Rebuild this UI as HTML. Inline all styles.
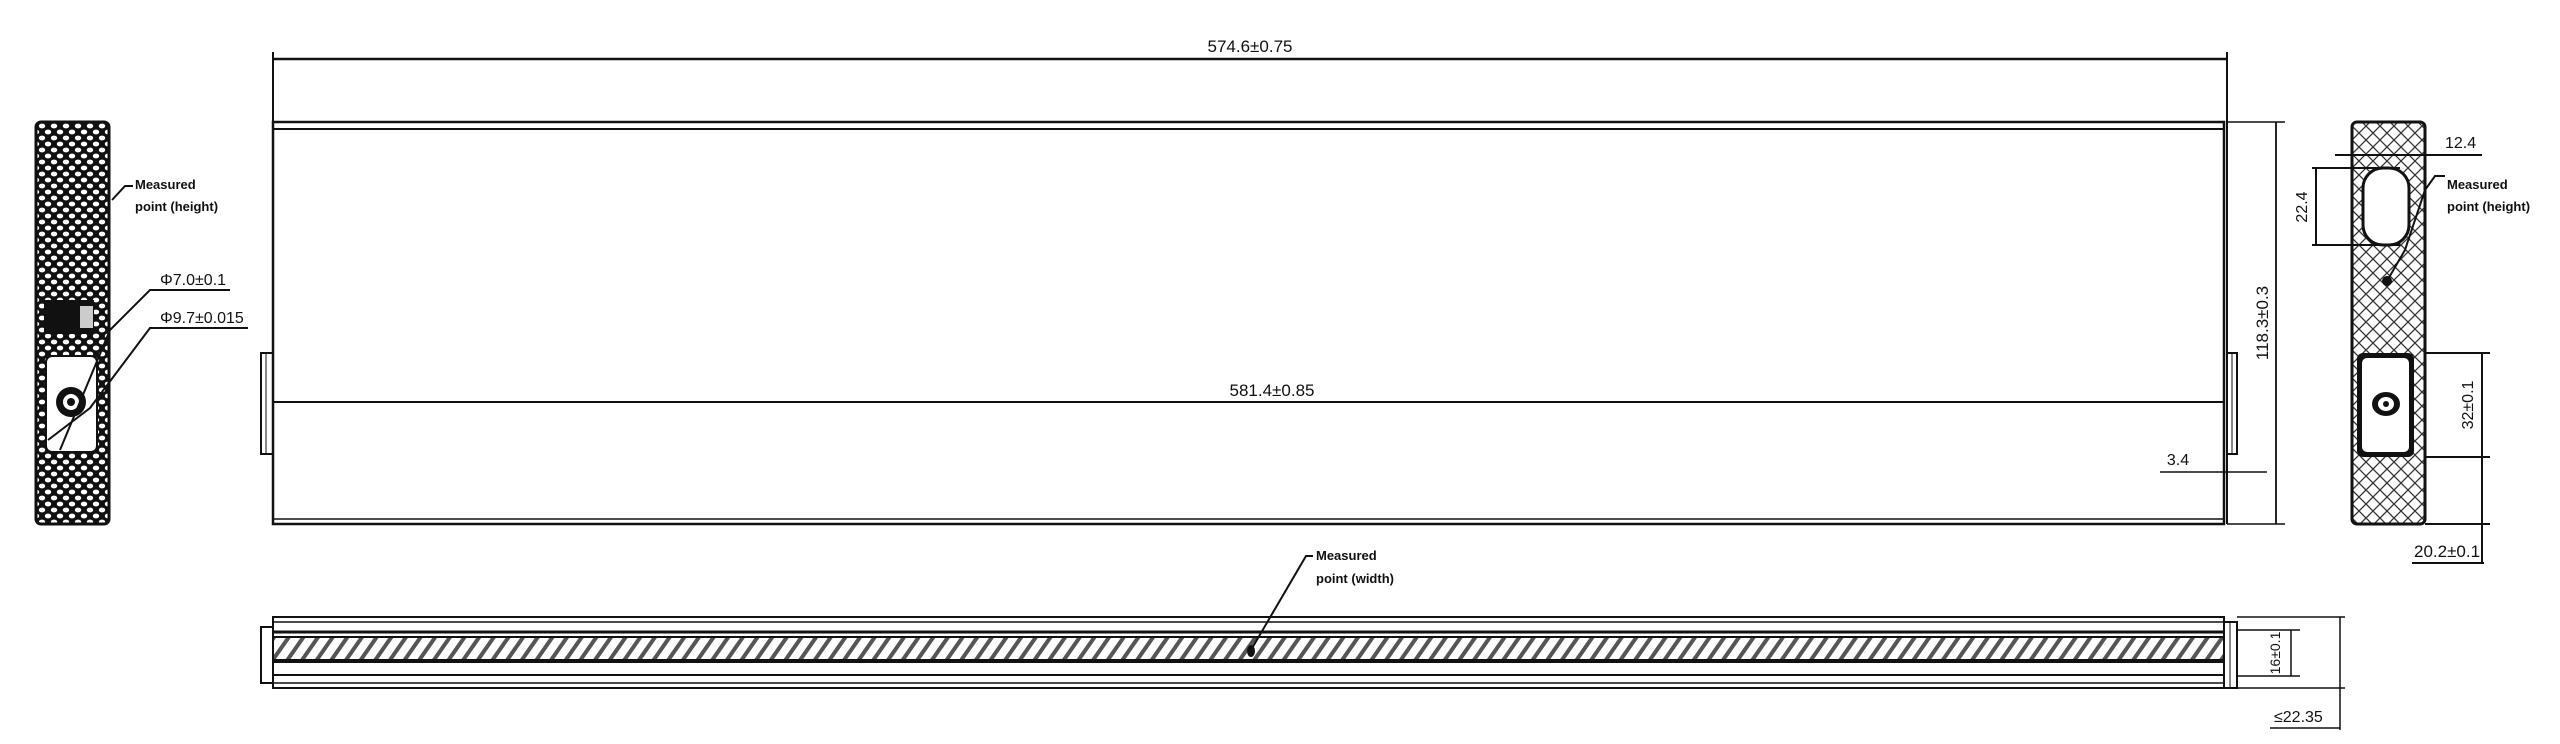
<!DOCTYPE html>
<html><head><meta charset="utf-8"><style>
html,body{margin:0;padding:0;background:#fff;}
svg{display:block;}
text{font-family:"Liberation Sans",sans-serif;fill:#111;}
</style></head><body>
<svg width="2560" height="744" viewBox="0 0 2560 744" xmlns="http://www.w3.org/2000/svg">
<defs>
<pattern id="dots" width="12" height="12" patternUnits="userSpaceOnUse">
<rect width="12" height="12" fill="#111"/>
<ellipse cx="6" cy="6" rx="3.2" ry="2.4" fill="#fff"/>
<ellipse cx="0" cy="0" rx="3.2" ry="2.4" fill="#fff"/><ellipse cx="12" cy="0" rx="3.2" ry="2.4" fill="#fff"/>
<ellipse cx="0" cy="12" rx="3.2" ry="2.4" fill="#fff"/><ellipse cx="12" cy="12" rx="3.2" ry="2.4" fill="#fff"/>
</pattern>
<pattern id="cross" width="14" height="14" patternUnits="userSpaceOnUse">
<rect width="14" height="14" fill="#fff"/>
<path d="M0 0L14 14M14 0L0 14" stroke="#333" stroke-width="1.3"/>
</pattern>
<pattern id="hatch" width="12" height="12" patternUnits="userSpaceOnUse" patternTransform="rotate(35)">
<rect width="12" height="12" fill="#fff"/>
<rect x="0" y="0" width="4" height="12" fill="#555"/>
</pattern>
</defs>
<g stroke="#111" fill="none" stroke-width="2">
<line x1="273" y1="52" x2="273" y2="122"/>
<line x1="2227" y1="52" x2="2227" y2="524" />
<line x1="273" y1="59" x2="2227" y2="59" stroke-width="2.5"/>
<rect x="273" y="122" width="1951" height="402" stroke-width="2.5"/>
<line x1="273" y1="129" x2="2224" y2="129" stroke-width="2"/>
<line x1="273" y1="519" x2="2224" y2="519" stroke-width="1.5"/>
<line x1="273" y1="402" x2="2224" y2="402" stroke-width="2"/>
<rect x="261" y="353" width="12" height="101" stroke-width="2"/>
<line x1="266" y1="353" x2="266" y2="454" stroke-width="1"/>
<rect x="2227" y="353" width="10" height="101" stroke-width="2"/>
<line x1="2232" y1="353" x2="2232" y2="454" stroke-width="1"/>
<line x1="2160" y1="472" x2="2267" y2="472" stroke-width="1.5"/>
<line x1="2227" y1="122" x2="2285" y2="122" stroke-width="1.5"/>
<line x1="2227" y1="524" x2="2285" y2="524" stroke-width="1.5"/>
<line x1="2276" y1="122" x2="2276" y2="524" stroke-width="1.8"/>
</g>
<text x="1250" y="52" font-size="17" text-anchor="middle">574.6±0.75</text>
<text x="1272" y="396" font-size="17" text-anchor="middle">581.4±0.85</text>
<text x="2178" y="465" font-size="16" text-anchor="middle">3.4</text>
<text transform="translate(2268,323) rotate(-90)" font-size="17" text-anchor="middle">118.3±0.3</text>

<rect x="36" y="122" width="73" height="402" rx="5" fill="url(#dots)" stroke="#111" stroke-width="3"/>
<rect x="44" y="300" width="50" height="34" fill="#111"/>
<rect x="80" y="306" width="13" height="22" fill="#ccc"/>
<rect x="46" y="356" width="51" height="96" rx="6" fill="#fff" stroke="#111" stroke-width="2"/>
<circle cx="71" cy="402" r="15" fill="#111"/>
<circle cx="71" cy="402" r="8" fill="#fff"/>
<circle cx="71" cy="402" r="4" fill="#111"/>
<g stroke="#111" stroke-width="2" fill="none">
<polyline points="112,200 125,186 133,186"/>
<polyline points="60,450 110,330 150,290 230,290"/>
<polyline points="48,440 90,408 150,328 248,328"/>
</g>
<text x="135" y="189" font-size="13" font-weight="bold">Measured</text>
<text x="135" y="211" font-size="13" font-weight="bold">point (height)</text>
<text x="160" y="285" font-size="16">Φ7.0±0.1</text>
<text x="160" y="323" font-size="16">Φ9.7±0.015</text>

<rect x="2352" y="122" width="73" height="402" rx="5" fill="url(#cross)" stroke="#111" stroke-width="3"/>
<rect x="2363" y="168" width="46" height="77" rx="20" fill="#fff" stroke="#111" stroke-width="3"/>
<rect x="2357" y="353" width="57" height="104" rx="6" fill="#111"/>
<rect x="2362" y="358" width="47" height="94" rx="5" fill="#fff"/>
<ellipse cx="2386" cy="404" rx="14" ry="12" fill="#111"/>
<ellipse cx="2386" cy="404" rx="8" ry="7" fill="#fff"/>
<circle cx="2386" cy="404" r="3" fill="#111"/>
<circle cx="2387" cy="281" r="5" fill="#111"/>
<g stroke="#111" stroke-width="2" fill="none">
<line x1="2335" y1="155" x2="2482" y2="155"/>
<line x1="2312" y1="168" x2="2400" y2="168"/>
<line x1="2312" y1="245" x2="2400" y2="245"/>
<line x1="2316" y1="168" x2="2316" y2="245"/>
<polyline points="2387,281 2405,250 2425,190 2435,176 2445,176"/>
<line x1="2425" y1="353" x2="2490" y2="353"/>
<line x1="2425" y1="457" x2="2490" y2="457"/>
<line x1="2425" y1="524" x2="2490" y2="524"/>
<line x1="2482" y1="353" x2="2482" y2="563"/>
<line x1="2412" y1="563" x2="2484" y2="563"/>
</g>
<text x="2445" y="148" font-size="16">12.4</text>
<text x="2447" y="189" font-size="13" font-weight="bold">Measured</text>
<text x="2447" y="211" font-size="13" font-weight="bold">point (height)</text>
<text transform="translate(2307,207) rotate(-90)" font-size="16" text-anchor="middle">22.4</text>
<text transform="translate(2473,405) rotate(-90)" font-size="16" text-anchor="middle">32±0.1</text>
<text x="2414" y="557" font-size="17">20.2±0.1</text>

<rect x="273" y="638" width="1951" height="22" fill="url(#hatch)"/>
<g stroke="#111" fill="none">
<rect x="273" y="617" width="1951" height="71" stroke-width="2"/>
<line x1="273" y1="622" x2="2224" y2="622" stroke-width="1.5"/>
<line x1="273" y1="683" x2="2224" y2="683" stroke-width="1.5"/>
<line x1="273" y1="632" x2="2224" y2="632" stroke-width="3"/>
<line x1="273" y1="637" x2="2224" y2="637" stroke-width="2"/>
<line x1="273" y1="661" x2="2224" y2="661" stroke-width="4"/>
<line x1="273" y1="675" x2="2224" y2="675" stroke-width="2"/>
<rect x="261" y="627" width="12" height="56" stroke-width="2"/>
<rect x="2224" y="622" width="13" height="66" stroke-width="2"/>
<line x1="2230" y1="622" x2="2230" y2="688" stroke-width="1"/>
<line x1="2237" y1="630" x2="2300" y2="630" stroke-width="1.5"/>
<line x1="2237" y1="676" x2="2300" y2="676" stroke-width="1.5"/>
<line x1="2291" y1="630" x2="2291" y2="676" stroke-width="1.5"/>
<line x1="2237" y1="617" x2="2345" y2="617" stroke-width="1.5"/>
<line x1="2237" y1="688" x2="2345" y2="688" stroke-width="1.5"/>
<line x1="2340" y1="617" x2="2340" y2="730" stroke-width="1.5"/>
<line x1="2270" y1="728" x2="2340" y2="728" stroke-width="1.5"/>
<polyline points="1251,650 1306,556 1313,556" stroke-width="2"/>
</g>
<ellipse cx="1251" cy="651" rx="4" ry="6" fill="#111"/>
<text x="1316" y="560" font-size="13" font-weight="bold">Measured</text>
<text x="1316" y="583" font-size="13" font-weight="bold">point (width)</text>
<text transform="translate(2280,653) rotate(-90)" font-size="14" text-anchor="middle">16±0.1</text>
<text x="2274" y="722" font-size="16">≤22.35</text>
</svg>
</body></html>
